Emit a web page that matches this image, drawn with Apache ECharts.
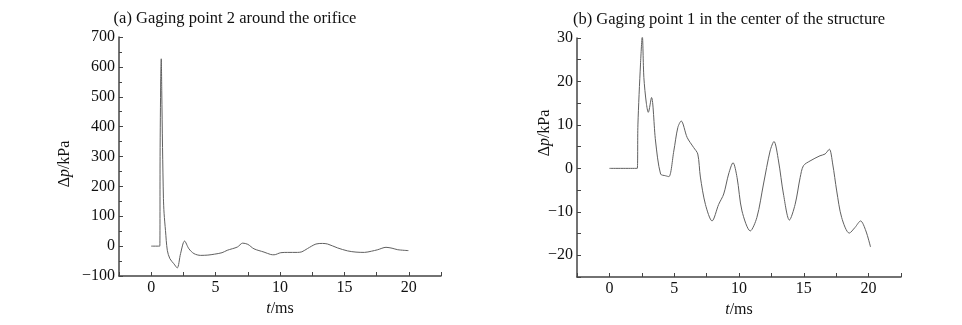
<!DOCTYPE html>
<html>
<head>
<meta charset="utf-8">
<script src="https://cdn.jsdelivr.net/npm/echarts@6/dist/echarts.min.js"></script>
<style>html,body{margin:0;padding:0;background:#fff}#c{width:962px;height:325px}</style>
</head>
<body>
<div id="c"></div>
<script>
// (a) Gaging point 2 around the orifice
var tA = [0, 0.67, 0.69, 0.74, 0.78, 0.82, 0.88, 0.95, 1.0, 1.11, 1.25, 1.45, 1.76, 2.02, 2.28, 2.59, 2.93, 3.32, 3.84, 4.4, 4.9, 5.5, 5.9, 6.69, 7.1, 7.5, 7.98, 8.76, 9.28, 9.54, 10.06, 10.6, 11.36, 11.7, 12.14, 12.79, 13.3, 13.7, 14.47, 15.25, 15.9, 16.55, 17.1, 17.59, 18.23, 18.7, 19.14, 19.97];
var vA = [0, 0, 300, 560, 627, 520, 330, 160, 110, 52, -14, -42, -59, -73, -25, 17, -9, -25, -31, -30, -27, -22, -14, -3, 10, 6, -9, -20, -28, -29, -22, -21, -21, -19, -8, 7, 9, 7, -6, -16, -20, -21, -17, -12, -4, -7, -12, -15];
// (b) Gaging point 1 in the center of the structure
var tB = [0, 2.15, 2.2, 2.4, 2.54, 2.66, 2.85, 3.0, 3.25, 3.56, 3.95, 4.33, 4.59, 4.97, 5.28, 5.54, 6.0, 6.5, 6.82, 7.02, 7.41, 7.92, 8.43, 8.82, 9.2, 9.54, 9.85, 10.23, 10.87, 11.38, 11.89, 12.4, 12.7, 13.05, 13.43, 13.89, 14.33, 14.72, 14.97, 15.48, 16.25, 16.64, 16.97, 17.23, 17.54, 17.92, 18.51, 18.95, 19.38, 19.79, 20.15];
var vB = [0, 0, 10, 24, 30.5, 20.9, 15, 12.9, 16.3, 6.3, -1.3, -1.7, -1.9, 4.0, 9.4, 10.9, 7.1, 4.8, 3.3, -2.0, -8.3, -12.1, -8.3, -5.9, -1.3, 1.3, -2.1, -9.8, -14.4, -11.3, -3.6, 4.0, 6.2, 1.7, -5.9, -11.9, -8.3, -2.1, 0.6, 1.7, 2.9, 3.3, 4.4, 1.0, -5.2, -11.3, -14.9, -13.6, -12.1, -14.4, -18.1];
var xTicks = [0, 5, 10, 15, 20];
var yTicksA = [-100, 0, 100, 200, 300, 400, 500, 600, 700];
var yTicksB = [-20, -10, 0, 10, 20, 30];
var titles = ['(a) Gaging point 2 around the orifice', '(b) Gaging point 1 in the center of the structure'];

var FONT = 'Liberation Serif';
function pairs(t, v) { return t.map(function (x, i) { return [x, v[i]]; }); }
function fmt(list) {
  return function (val) {
    var r = Math.round(val * 100) / 100;
    if (list.indexOf(r) < 0) return '';
    return r < 0 ? '\u2212' + Math.abs(r) : String(r);
  };
}
var axisLine = { onZero: false, lineStyle: { color: '#444', width: 1.5 } };
var axisTick = { inside: true, length: 4, lineStyle: { color: '#444', width: 1 } };
var labelStyle = { color: '#111', fontFamily: FONT, fontSize: 16 };

function xAxis(idx) {
  return {
    type: 'value', gridIndex: idx, min: -2.5, max: 22.5, interval: 2.5,
    axisLine: axisLine, axisTick: axisTick, splitLine: { show: false },
    axisLabel: Object.assign({ formatter: fmt(xTicks), margin: 4 }, labelStyle),
    name: '{i|t}/ms', nameLocation: 'middle', nameGap: 21,
    nameTextStyle: { fontFamily: FONT, fontSize: 16, color: '#111',
      rich: { i: { fontStyle: 'italic', fontFamily: FONT, fontSize: 16, color: '#111' } } }
  };
}
function yName(x, y) {
  return { type: 'text', x: x, y: y, rotation: Math.PI / 2,
    style: { text: '\u0394{i|p}/kPa', font: '16px "' + FONT + '"', fill: '#111', align: 'center', verticalAlign: 'middle',
      rich: { i: { fontStyle: 'italic', fontFamily: FONT, fontSize: 16, fill: '#111' } } } };
}

var chart = echarts.init(document.getElementById('c'));
chart.setOption({
  backgroundColor: '#fff',
  animation: false,
  grid: [
    { left: 119, top: 37, right: 521, bottom: 49 },
    { left: 577, top: 38, right: 61, bottom: 48 }
  ],
  xAxis: [xAxis(0), xAxis(1)],
  yAxis: [
    { type: 'value', gridIndex: 0, min: -100, max: 700, interval: 100,
      axisLine: Object.assign({ show: true }, axisLine), axisTick: axisTick,
      minorTick: { show: true, splitNumber: 2, length: 3, lineStyle: { color: '#444' } },
      splitLine: { show: false },
      axisLabel: Object.assign({ formatter: fmt(yTicksA), margin: 4 }, labelStyle) },
    { type: 'value', gridIndex: 1, min: -25, max: 30, interval: 5,
      axisLine: Object.assign({ show: true }, axisLine), axisTick: axisTick,
      splitLine: { show: false },
      axisLabel: Object.assign({ formatter: fmt(yTicksB), margin: 4 }, labelStyle) }
  ],
  graphic: [
    { type: 'text', x: 235, y: 19, style: { text: titles[0], font: '16.5px "' + FONT + '"', fill: '#111', align: 'center', verticalAlign: 'middle' } },
    { type: 'text', x: 729, y: 20, style: { text: titles[1], font: '16.5px "' + FONT + '"', fill: '#111', align: 'center', verticalAlign: 'middle' } },
    yName(65, 164),
    yName(545, 133)
  ],
  series: [
    { type: 'line', xAxisIndex: 0, yAxisIndex: 0, data: pairs(tA, vA), showSymbol: false, smooth: 0.3,
      lineStyle: { color: '#606060', width: 1 } },
    { type: 'line', xAxisIndex: 1, yAxisIndex: 1, data: pairs(tB, vB), showSymbol: false, smooth: 0.3,
      lineStyle: { color: '#606060', width: 1 } }
  ]
});
</script>
</body>
</html>
